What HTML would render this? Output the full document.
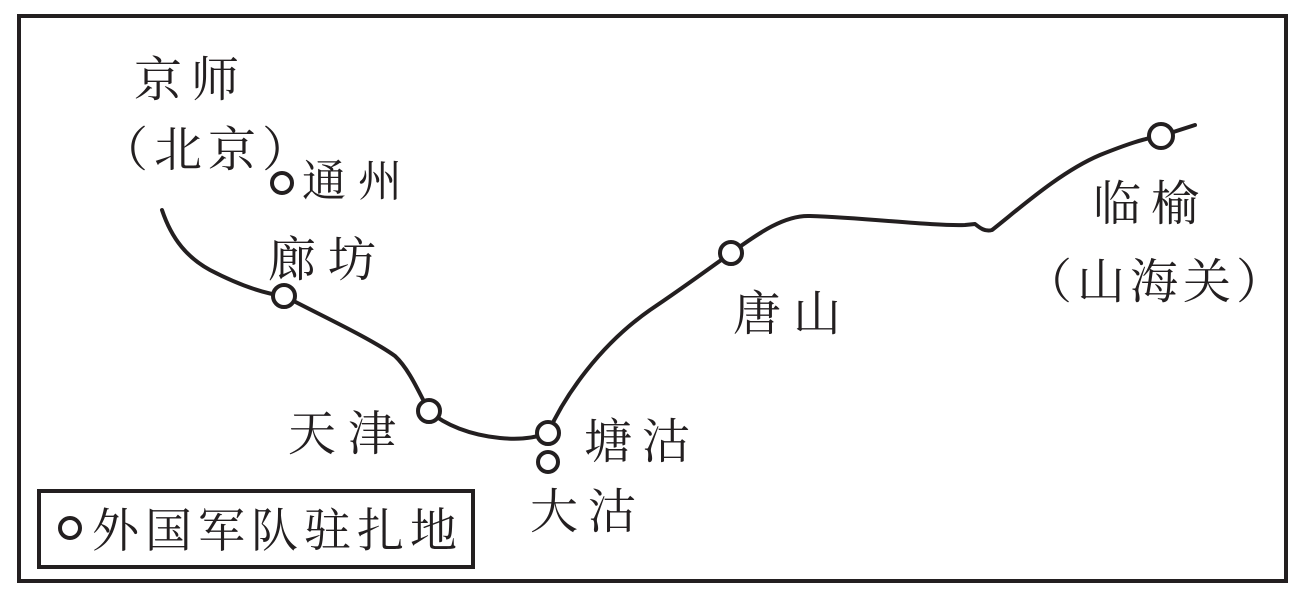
<!DOCTYPE html>
<html><head><meta charset="utf-8"><style>
html,body{margin:0;padding:0;background:#fff;}
svg{display:block;}
text{font-family:"Liberation Serif","Noto Serif CJK SC","Noto Sans CJK SC",serif;fill:#231f20;}
</style></head><body>
<svg width="1308" height="598" viewBox="0 0 1308 598" xmlns="http://www.w3.org/2000/svg">
<rect x="19" y="16" width="1267" height="565" fill="none" stroke="#231f20" stroke-width="4"/>
<rect x="39" y="491" width="434" height="76" fill="none" stroke="#231f20" stroke-width="4"/>
<path d="M162,210 C172,240 188,258 210,270 C235,283 260,293 284,296 M284,296 C320,315 370,338 395,356 C410,370 420,395 429,411 C445,425 470,435 500,438 C520,440 535,438 548,433 C565,395 600,345 650,310 C680,290 710,268 731,253 C760,232 785,215 810,216 C870,218 930,226 965,225 L975,224 C980,228 985,232 992,230 C1020,208 1060,172 1100,155 C1125,145 1145,138 1161,136 L1195,125" fill="none" stroke="#231f20" stroke-width="4" stroke-linecap="round" stroke-linejoin="round"/>
<g fill="#fff" stroke="#231f20" stroke-width="4">
<circle cx="282" cy="183" r="10"/>
<circle cx="284" cy="296" r="11"/>
<circle cx="429" cy="411" r="11"/>
<circle cx="548" cy="433" r="11"/>
<circle cx="548" cy="462" r="10"/>
<circle cx="731" cy="253" r="11"/>
<circle cx="1161" cy="136" r="12"/>
<circle cx="70" cy="528" r="10"/>
</g>
<g font-size="48">
<text x="134" y="96" letter-spacing="9">京师</text>
<text x="100" y="166" letter-spacing="6">（北京）</text>
<text x="302" y="196" font-size="44" letter-spacing="12">通州</text>
<text x="268" y="276" letter-spacing="12">廊坊</text>
<text x="288" y="450" letter-spacing="12">天津</text>
<text x="584" y="458" letter-spacing="10">塘沽</text>
<text x="530" y="528" letter-spacing="10">大沽</text>
<text x="733" y="330" letter-spacing="12">唐山</text>
<text x="1093" y="220" letter-spacing="10">临榆</text>
<text x="1024" y="298" letter-spacing="5">（山海关）</text>
<text x="92" y="547" font-size="47" letter-spacing="6">外国军队驻扎地</text>
</g>
</svg>
</body></html>
